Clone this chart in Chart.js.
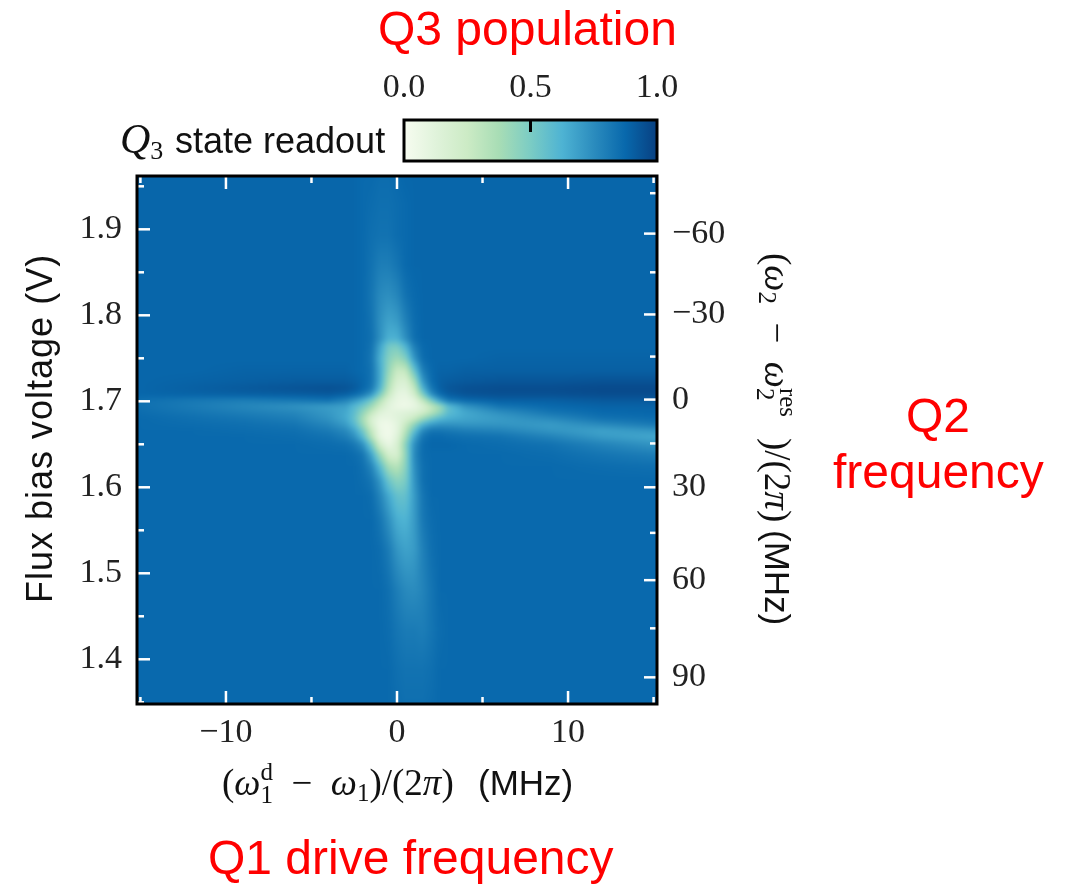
<!DOCTYPE html>
<html>
<head>
<meta charset="utf-8">
<script src="https://cdn.jsdelivr.net/npm/chart.js@4/dist/chart.umd.min.js"></script>
<style>
  html, body { margin: 0; padding: 0; background: #fff; }
  #wrap { position: relative; width: 1068px; height: 884px; }
  #main-chart { position: absolute; left: 0; top: 0; }
  #bar-chart { position: absolute; left: 340px; top: 50px; }
</style>
</head>
<body>
<div id="wrap">
  <canvas id="main-chart" width="1068" height="884"></canvas>
  <canvas id="bar-chart" width="380" height="120"></canvas>
</div>
<script>
// axis limits
const freqRange = [-15.2, 15.2];
const voltRange = [1.348, 1.962];

// tick labels
const freqTicks = [-10, 0, 10];
const freqMinorTicks = [-15, -5, 5, 15];
const voltTicks = [1.4, 1.5, 1.6, 1.7, 1.8, 1.9];
const voltMinorTicks = [1.35, 1.45, 1.55, 1.65, 1.75, 1.85, 1.95];
// right axis is not linear in the bias voltage
const q2Labels = ['\u221260', '\u221230', '0', '30', '60', '90'];
const q2TickVolts = [1.895, 1.801, 1.702, 1.600, 1.492, 1.379];
const q2MinorVolts = [1.942, 1.850, 1.752, 1.651, 1.547, 1.436];
const barTicks = [0, 0.5, 1];

// GnBu colour map
const cmapStops = [0, 0.125, 0.25, 0.375, 0.5, 0.625, 0.75, 0.875, 1];
const cmapColors = [
  [247, 252, 240], [224, 243, 219], [204, 235, 197], [168, 221, 181],
  [123, 204, 196], [78, 179, 211], [43, 140, 190], [8, 104, 172], [8, 64, 129]
];

// measured grid, finer around the crossing
const gridFreqs = [-15.2, -12, -9, -6, -4, -3, -2.5, -2, -1.5, -1, -0.5, 0, 0.5, 1, 1.5, 2, 2.5, 3, 4, 6, 9, 12, 15.2];
const gridVolts = [1.962, 1.928, 1.893, 1.858, 1.823, 1.794, 1.773, 1.764, 1.750, 1.736, 1.724, 1.715, 1.708, 1.701, 1.694, 1.687,
  1.680, 1.673, 1.666, 1.659, 1.650, 1.638, 1.624, 1.608, 1.590, 1.562, 1.527, 1.480, 1.434, 1.387, 1.348];
const population = [
  [.88,.88,.88,.88,.88,.88,.88,.87,.87,.86,.86,.87,.88,.88,.88,.88,.88,.88,.88,.88,.88,.88,.88],
  [.88,.88,.88,.88,.88,.88,.88,.87,.86,.85,.85,.86,.87,.88,.88,.88,.88,.88,.88,.88,.88,.88,.88],
  [.88,.88,.88,.88,.88,.88,.88,.87,.85,.84,.84,.86,.87,.88,.88,.88,.88,.88,.88,.88,.88,.88,.88],
  [.88,.88,.88,.88,.88,.88,.88,.87,.84,.80,.80,.83,.87,.88,.88,.88,.88,.88,.88,.88,.88,.88,.88],
  [.88,.88,.88,.88,.88,.88,.88,.87,.83,.76,.74,.77,.84,.87,.88,.88,.88,.88,.88,.88,.88,.88,.88],
  [.88,.88,.88,.88,.88,.88,.88,.87,.84,.74,.68,.70,.79,.86,.88,.88,.88,.88,.88,.88,.88,.88,.88],
  [.88,.88,.88,.88,.88,.88,.88,.87,.85,.74,.63,.63,.74,.85,.88,.88,.88,.88,.88,.88,.88,.88,.88],
  [.88,.88,.88,.88,.88,.88,.88,.87,.84,.68,.52,.50,.62,.80,.87,.88,.88,.88,.88,.88,.88,.88,.88],
  [.88,.88,.88,.88,.88,.88,.88,.87,.83,.64,.47,.40,.48,.72,.86,.88,.88,.88,.88,.89,.89,.89,.89],
  [.88,.88,.89,.89,.89,.89,.88,.87,.84,.66,.43,.26,.28,.55,.80,.87,.89,.89,.90,.90,.90,.90,.90],
  [.88,.89,.90,.91,.91,.91,.90,.88,.84,.66,.38,.19,.17,.38,.72,.86,.90,.91,.92,.93,.93,.94,.94],
  [.88,.90,.92,.94,.95,.94,.92,.88,.82,.62,.33,.14,.12,.27,.62,.82,.90,.93,.95,.96,.96,.97,.97],
  [.88,.89,.90,.91,.92,.90,.87,.82,.72,.50,.26,.10,.08,.20,.48,.74,.86,.91,.94,.95,.95,.96,.96],
  [.85,.82,.80,.82,.84,.78,.72,.64,.52,.34,.16,.08,.06,.10,.28,.50,.70,.82,.87,.90,.90,.92,.92],
  [.85,.81,.77,.73,.70,.68,.60,.52,.40,.24,.12,.06,.05,.08,.16,.28,.40,.58,.72,.83,.87,.89,.89],
  [.86,.83,.80,.77,.71,.66,.58,.44,.28,.14,.10,.12,.14,.16,.22,.32,.44,.58,.66,.74,.83,.87,.88],
  [.87,.85,.83,.80,.73,.66,.56,.38,.18,.08,.08,.12,.18,.26,.40,.52,.60,.64,.67,.70,.76,.84,.86],
  [.87,.86,.85,.83,.77,.70,.60,.42,.20,.05,.04,.10,.26,.44,.62,.70,.73,.73,.72,.72,.70,.76,.82],
  [.87,.87,.86,.85,.81,.76,.68,.52,.28,.07,.03,.10,.32,.56,.76,.83,.83,.82,.80,.78,.72,.68,.72],
  [.87,.87,.87,.86,.84,.80,.74,.60,.34,.08,.03,.13,.38,.66,.83,.87,.87,.86,.85,.84,.78,.70,.66],
  [.87,.87,.87,.87,.86,.85,.82,.74,.52,.20,.07,.17,.46,.74,.86,.88,.88,.88,.87,.86,.84,.78,.72],
  [.87,.87,.87,.87,.87,.87,.86,.83,.68,.42,.20,.18,.44,.76,.86,.87,.87,.87,.87,.87,.86,.83,.80],
  [.87,.87,.87,.87,.87,.87,.87,.85,.78,.60,.38,.32,.46,.74,.85,.87,.87,.87,.87,.87,.87,.86,.85],
  [.87,.87,.87,.87,.87,.87,.87,.86,.83,.72,.54,.45,.50,.72,.85,.87,.87,.87,.87,.87,.87,.87,.87],
  [.87,.87,.87,.87,.87,.87,.87,.87,.86,.78,.66,.56,.56,.70,.83,.87,.87,.87,.87,.87,.87,.87,.87],
  [.87,.87,.87,.87,.87,.87,.87,.87,.87,.83,.74,.64,.62,.70,.82,.86,.87,.87,.87,.87,.87,.87,.87],
  [.87,.87,.87,.87,.87,.87,.87,.87,.87,.86,.81,.72,.68,.70,.79,.85,.87,.87,.87,.87,.87,.87,.87],
  [.87,.87,.87,.87,.87,.87,.87,.87,.87,.87,.85,.80,.76,.75,.78,.83,.87,.87,.87,.87,.87,.87,.87],
  [.87,.87,.87,.87,.87,.87,.87,.87,.87,.87,.86,.83,.81,.81,.80,.83,.86,.87,.87,.87,.87,.87,.87],
  [.87,.87,.87,.87,.87,.87,.87,.87,.87,.87,.87,.85,.84,.84,.84,.85,.87,.87,.87,.87,.87,.87,.87],
  [.87,.87,.87,.87,.87,.87,.87,.87,.87,.87,.87,.86,.85,.85,.85,.86,.87,.87,.87,.87,.87,.87,.87]
];

const SANS = '"Liberation Sans"';
const SERIF = '"Liberation Serif"';

function getColor(v) {
  let i = 0;
  while (i < cmapStops.length - 2 && v > cmapStops[i + 1]) i++;
  const t = (v - cmapStops[i]) / (cmapStops[i + 1] - cmapStops[i]);
  return cmapColors[i].map((c, k) => c + (cmapColors[i + 1][k] - c) * t);
}

// mixed font text, runs are [text, font, raise, stay]
// stay keeps the pen in place so a sub and a superscript can stack
function drawRuns(ctx, runs, x, y, angle) {
  ctx.save();
  ctx.translate(x, y);
  ctx.rotate(angle || 0);
  ctx.textAlign = 'left';
  ctx.textBaseline = 'alphabetic';
  let pos = 0;
  runs.forEach(run => {
    ctx.font = run[1];
    ctx.fillText(run[0], pos, -(run[2] || 0));
    if (!run[3]) pos += ctx.measureText(run[0]).width;
  });
  ctx.restore();
}

const heatPlugin = {
  id: 'heat',
  beforeDatasetsDraw(chart) {
    const ctx = chart.ctx;
    const area = chart.chartArea;
    const pts = chart.getDatasetMeta(0).data;
    const nCols = gridFreqs.length;
    const colPx = gridFreqs.map((f, c) => pts[c].x);
    const rowPx = gridVolts.map((v, r) => pts[r * nCols].y);
    const w = Math.round(area.right - area.left);
    const h = Math.round(area.bottom - area.top);
    const off = document.createElement('canvas');
    off.width = w;
    off.height = h;
    const offCtx = off.getContext('2d');
    const img = offCtx.createImageData(w, h);
    let r = 0;
    for (let py = 0; py < h; py++) {
      const y = area.top + py + 0.5;
      while (r < rowPx.length - 2 && y > rowPx[r + 1]) r++;
      const ty = Math.min(1, Math.max(0, (y - rowPx[r]) / (rowPx[r + 1] - rowPx[r])));
      let c = 0;
      for (let px = 0; px < w; px++) {
        const x = area.left + px + 0.5;
        while (c < colPx.length - 2 && x > colPx[c + 1]) c++;
        const tx = Math.min(1, Math.max(0, (x - colPx[c]) / (colPx[c + 1] - colPx[c])));
        const top = population[r][c] * (1 - tx) + population[r][c + 1] * tx;
        const bot = population[r + 1][c] * (1 - tx) + population[r + 1][c + 1] * tx;
        const rgb = getColor(top * (1 - ty) + bot * ty);
        const o = (py * w + px) * 4;
        img.data[o] = rgb[0];
        img.data[o + 1] = rgb[1];
        img.data[o + 2] = rgb[2];
        img.data[o + 3] = 255;
      }
    }
    offCtx.putImageData(img, 0, 0);
    ctx.drawImage(off, area.left, area.top);
    // soften the grid kinks, the source picture is blurry too
    ctx.save();
    ctx.beginPath();
    ctx.rect(area.left, area.top, w, h);
    ctx.clip();
    ctx.filter = 'blur(2px)';
    ctx.drawImage(off, area.left, area.top);
    ctx.restore();
  },
  afterDatasetsDraw(chart) {
    const ctx = chart.ctx;
    const area = chart.chartArea;
    const { x, y } = chart.scales;

    // white ticks on the inside of the frame
    ctx.save();
    ctx.strokeStyle = '#fff';
    ctx.lineWidth = 2.5;
    function tickV(v, len) {
      const p = x.getPixelForValue(v);
      ctx.beginPath();
      ctx.moveTo(p, area.top); ctx.lineTo(p, area.top + len);
      ctx.moveTo(p, area.bottom); ctx.lineTo(p, area.bottom - len);
      ctx.stroke();
    }
    function tickH(v, len, left, right) {
      const p = y.getPixelForValue(v);
      ctx.beginPath();
      if (left) { ctx.moveTo(area.left, p); ctx.lineTo(area.left + len, p); }
      if (right) { ctx.moveTo(area.right, p); ctx.lineTo(area.right - len, p); }
      ctx.stroke();
    }
    freqTicks.forEach(v => tickV(v, 13));
    freqMinorTicks.forEach(v => tickV(v, 7));
    voltTicks.forEach(v => tickH(v, 13, true, false));
    voltMinorTicks.forEach(v => tickH(v, 7, true, false));
    q2TickVolts.forEach(v => tickH(v, 13, false, true));
    q2MinorVolts.forEach(v => tickH(v, 7, false, true));
    ctx.restore();

    // frame
    ctx.save();
    ctx.strokeStyle = '#000';
    ctx.lineWidth = 3;
    ctx.strokeRect(area.left, area.top, area.right - area.left, area.bottom - area.top);
    ctx.restore();

    // axis titles
    ctx.save();
    ctx.fillStyle = '#111';
    const math = '37px ' + SERIF;
    const mathIt = 'italic 37px ' + SERIF;
    const small = '25px ' + SERIF;
    const mhz = '35px ' + SANS;
    ctx.save();
    ctx.letterSpacing = '1px';
    drawRuns(ctx, [['Flux bias voltage (V)', '36px ' + SANS]], 52, 603, -Math.PI / 2);
    ctx.restore();
    drawRuns(ctx, [
      ['(', math], ['\u03c9', mathIt], ['d', small, 15, true], ['1', small, -8], ['  \u2212  ', math], ['\u03c9', mathIt], ['1', small, -6],
      [')/(2', math], ['\u03c0', mathIt], [')', math]
    ], 222, 795);
    drawRuns(ctx, [['(MHz)', mhz]], 478, 795);
    drawRuns(ctx, [
      ['(', math], ['\u03c9', mathIt], ['2', small, -6], ['  \u2212  ', math], ['\u03c9', mathIt], ['res', small, 15, true], ['2', small, -8],
      ['      ', small], [')/(2', math], ['\u03c0', mathIt], [')', math]
    ], 765, 253, Math.PI / 2);
    drawRuns(ctx, [['(MHz)', mhz]], 765, 530, Math.PI / 2);
    drawRuns(ctx, [['Q', 'italic 42px ' + SERIF], ['3', '26px ' + SERIF, -6]], 120, 153);
    drawRuns(ctx, [['state readout', '36px ' + SANS]], 175, 153);
    ctx.restore();

    // red notes
    ctx.save();
    ctx.fillStyle = '#f00';
    const note = '48px ' + SANS;
    drawRuns(ctx, [['Q3 population', note]], 378, 45);
    drawRuns(ctx, [['Q1 drive frequency', note]], 208, 874);
    drawRuns(ctx, [['Q2', note]], 906, 432);
    drawRuns(ctx, [['frequency', note]], 833, 488);
    ctx.restore();
  }
};

const tickFont = { family: SERIF, size: 34 };

new Chart(document.querySelector('#main-chart').getContext('2d'), {
  type: 'scatter',
  data: {
    datasets: [{
      label: 'Q3 population',
      data: gridVolts.flatMap((v, r) => gridFreqs.map((f, c) => ({ x: f, y: v, v: population[r][c] }))),
      pointRadius: 0
    }]
  },
  options: {
    responsive: false,
    animation: false,
    layout: { padding: { top: 176 } },
    plugins: { legend: { display: false }, tooltip: { enabled: false } },
    scales: {
      x: {
        type: 'linear',
        min: freqRange[0],
        max: freqRange[1],
        grid: { display: false },
        border: { display: false },
        afterFit: scale => { scale.height = 180; },
        afterBuildTicks: scale => { scale.ticks = freqTicks.map(v => ({ value: v })); },
        ticks: {
          color: '#222', font: tickFont, padding: 1, maxRotation: 0, autoSkip: false,
          callback: v => (v < 0 ? '\u2212' + Math.abs(v) : String(v))
        }
      },
      y: {
        type: 'linear',
        position: 'left',
        min: voltRange[0],
        max: voltRange[1],
        grid: { display: false },
        border: { display: false },
        afterFit: scale => { scale.width = 137; },
        afterBuildTicks: scale => { scale.ticks = voltTicks.map(v => ({ value: v })); },
        ticks: {
          color: '#222', font: tickFont, padding: 7, autoSkip: false,
          callback: v => v.toFixed(1)
        }
      },
      y2: {
        type: 'linear',
        position: 'right',
        display: true,
        min: voltRange[0],
        max: voltRange[1],
        grid: { display: false },
        border: { display: false },
        afterFit: scale => { scale.width = 411; },
        afterBuildTicks: scale => { scale.ticks = q2TickVolts.map(v => ({ value: v })); },
        ticks: {
          color: '#222', font: tickFont, padding: 7, autoSkip: false,
          callback: (v, i) => q2Labels[i]
        }
      }
    }
  },
  plugins: [heatPlugin]
});

// colour bar
const barFrame = {
  id: 'barFrame',
  afterDatasetsDraw(chart) {
    const ctx = chart.ctx;
    const area = chart.chartArea;
    ctx.save();
    ctx.strokeStyle = '#000';
    ctx.lineWidth = 3;
    ctx.strokeRect(area.left, area.top, area.right - area.left, area.bottom - area.top);
    const p = chart.scales.x.getPixelForValue(0.5);
    ctx.beginPath();
    ctx.moveTo(p, area.top);
    ctx.lineTo(p, area.top + 12);
    ctx.stroke();
    ctx.restore();
  }
};

new Chart(document.querySelector('#bar-chart').getContext('2d'), {
  type: 'bar',
  data: {
    labels: ['Q3'],
    datasets: [{
      data: [[0, 1]],
      barPercentage: 1,
      categoryPercentage: 1,
      backgroundColor: c => {
        const area = c.chart.chartArea;
        if (!area) return '#2b8cbe';
        const g = c.chart.ctx.createLinearGradient(area.left, 0, area.right, 0);
        cmapStops.forEach((s, i) => g.addColorStop(s, 'rgb(' + cmapColors[i].join(',') + ')'));
        return g;
      }
    }]
  },
  options: {
    indexAxis: 'y',
    responsive: false,
    animation: false,
    layout: { padding: { left: 64, right: 63, bottom: 9 } },
    plugins: { legend: { display: false }, tooltip: { enabled: false } },
    scales: {
      y: { display: false },
      x: {
        type: 'linear',
        position: 'top',
        min: 0,
        max: 1,
        grid: { display: false },
        border: { display: false },
        afterFit: scale => { scale.height = 70; },
        afterBuildTicks: scale => { scale.ticks = barTicks.map(v => ({ value: v })); },
        ticks: {
          color: '#222', font: tickFont, padding: 4, maxRotation: 0, autoSkip: false,
          callback: v => v.toFixed(1)
        }
      }
    }
  },
  plugins: [barFrame]
});
</script>
</body>
</html>
